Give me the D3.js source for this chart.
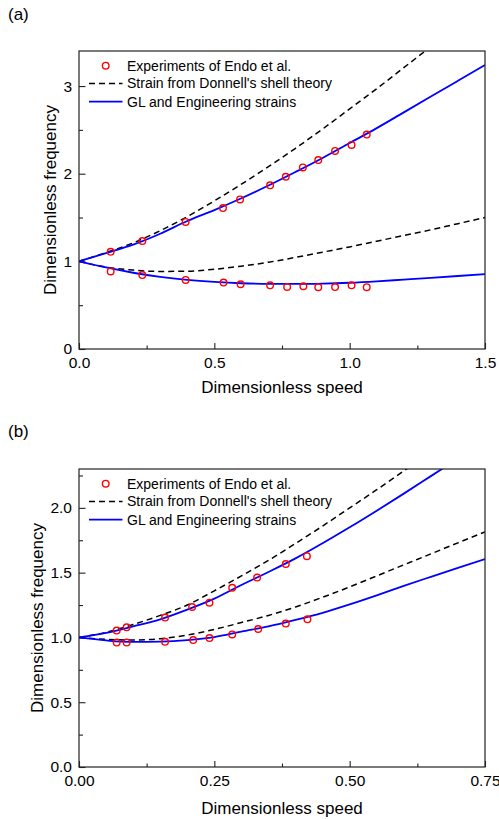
<!DOCTYPE html>
<html><head><meta charset="utf-8">
<script src="https://cdn.jsdelivr.net/npm/d3@7"></script>
<style>
body{margin:0;background:#fff}
text{font-family:"Liberation Sans",Arial,Helvetica,sans-serif;fill:#000}
</style>
</head><body>
<svg id="chart" width="499" height="819"></svg>
<script>
// ---------- Panel (a) data ----------
const aCurveX = [0,0.1,0.2,0.3,0.4,0.5,0.6,0.7,0.8,0.9,1.0,1.1,1.2,1.3,1.4,1.5];
const aDonnellUpperX = [0,0.1,0.2,0.3,0.4,0.5,0.6,0.7,0.8,0.9,1.0,1.1,1.2,1.3];
const aDonnellUpper = [1,1.10,1.21,1.35,1.51,1.69,1.88,2.08,2.29,2.51,2.74,2.97,3.21,3.45];
const aDonnellLower = [1,0.935,0.90,0.885,0.888,0.91,0.945,0.99,1.045,1.105,1.165,1.23,1.295,1.36,1.43,1.50];
const aGLUpper = [1,1.094,1.19,1.315,1.46,1.585,1.72,1.865,2.02,2.18,2.35,2.52,2.70,2.88,3.06,3.24];
const aGLLower = [1,0.93,0.87,0.822,0.788,0.765,0.75,0.743,0.742,0.746,0.756,0.772,0.792,0.812,0.833,0.855];
const aExpUpperX = [0.117,0.234,0.394,0.532,0.595,0.706,0.764,0.827,0.884,0.946,1.007,1.063];
const aExpUpperY = [1.109,1.231,1.450,1.608,1.707,1.868,1.965,2.072,2.155,2.260,2.328,2.446];
const aExpLowerX = [0.117,0.234,0.394,0.534,0.597,0.706,0.769,0.829,0.884,0.946,1.007,1.063];
const aExpLowerY = [0.885,0.844,0.788,0.758,0.739,0.726,0.708,0.716,0.705,0.707,0.726,0.705];
const aXTicks = [0,0.5,1.0,1.5];
const aXTickLabels = ["0.0","0.5","1.0","1.5"];
const aXMinor = [0.25,0.75,1.25];
const aYTicks = [0,1,2,3];
const aYTickLabels = ["0","1","2","3"];
const aYMinor = [0.5,1.5,2.5];

// ---------- Panel (b) data ----------
const bCurveX = [0,0.05,0.1,0.15,0.2,0.25,0.3,0.35,0.4,0.45,0.5,0.55,0.6,0.65,0.7,0.75];
const bDonnellUpperX = [0,0.05,0.1,0.15,0.2,0.25,0.3,0.35,0.4,0.45,0.5,0.55,0.6,0.65];
const bDonnellUpper = [1,1.04,1.10,1.17,1.25,1.36,1.475,1.595,1.725,1.86,2.0,2.14,2.285,2.43];
const bDonnellLower = [1,0.985,0.98,0.99,1.018,1.062,1.115,1.17,1.235,1.31,1.39,1.475,1.56,1.645,1.73,1.815];
const bGLUpperX = [0,0.05,0.1,0.15,0.2,0.25,0.3,0.35,0.4,0.45,0.5,0.55,0.6,0.65,0.7];
const bGLUpper = [1,1.035,1.085,1.14,1.215,1.30,1.405,1.505,1.61,1.727,1.85,1.978,2.11,2.245,2.38];
const bGLLower = [1,0.977,0.965,0.968,0.98,1.003,1.045,1.085,1.135,1.19,1.255,1.325,1.398,1.468,1.537,1.605];
const bExpUpperX = [0.0696,0.088,0.159,0.209,0.241,0.283,0.329,0.382,0.421];
const bExpUpperY = [1.053,1.078,1.153,1.235,1.268,1.383,1.462,1.566,1.627];
const bExpLowerX = [0.0696,0.088,0.159,0.211,0.241,0.283,0.331,0.382,0.422];
const bExpLowerY = [0.960,0.960,0.966,0.980,0.995,1.023,1.065,1.107,1.140];
const bXTicks = [0,0.25,0.5,0.75];
const bXTickLabels = ["0.00","0.25","0.50","0.75"];
const bXMinor = [0.125,0.375,0.625];
const bYTicks = [0,0.5,1.0,1.5,2.0];
const bYTickLabels = ["0.0","0.5","1.0","1.5","2.0"];
const bYMinor = [0.25,0.75,1.25,1.75,2.25];

const legendLabels = ["Experiments of Endo et al.","Strain from Donnell's shell theory","GL and Engineering strains"];
const xTitle = "Dimensionless speed";
const yTitle = "Dimensionless frequency";

const svg = d3.select("#chart");
const BLUE = "#0000ff", RED = "#ff0000";

function drawPanel(cfg){
  const L = 79, R = 485, T = cfg.top, B = cfg.bottom;
  const x = d3.scaleLinear().domain(cfg.xDomain).range([L,R]);
  const y = d3.scaleLinear().domain(cfg.yDomain).range([B,T]);
  const g = svg.append("g");

  const clipId = "clip" + cfg.id;
  svg.append("clipPath").attr("id",clipId).append("rect")
    .attr("x",L).attr("y",T).attr("width",R-L).attr("height",B-T);

  g.append("text").attr("x",8).attr("y",cfg.labelY).style("font-size","17px").text(cfg.label);

  const fmtX = d => cfg.xLabels[cfg.xTicks.indexOf(d)];
  const fmtY = d => cfg.yLabels[cfg.yTicks.indexOf(d)];
  const xa = g.append("g").attr("transform",`translate(0,${B})`)
    .call(d3.axisBottom(x).tickValues(cfg.xTicks).tickSize(-6).tickPadding(8).tickFormat(fmtX));
  const xm = g.append("g").attr("transform",`translate(0,${B})`)
    .call(d3.axisBottom(x).tickValues(cfg.xMinor).tickSize(-3.5).tickFormat(""));
  const ya = g.append("g").attr("transform",`translate(${L},0)`)
    .call(d3.axisLeft(y).tickValues(cfg.yTicks).tickSize(-6.5).tickPadding(7).tickFormat(fmtY));
  const ym = g.append("g").attr("transform",`translate(${L},0)`)
    .call(d3.axisLeft(y).tickValues(cfg.yMinor).tickSize(-4).tickFormat(""));
  [xa,xm,ya,ym].forEach(a=>{
    a.select(".domain").remove();
    a.selectAll("line").attr("stroke","#222").attr("stroke-width",1.1);
    a.selectAll("text").style("font-size","15.5px").style("font-family",'"Liberation Sans",Arial,sans-serif').attr("fill","#000");
  });

  const line = d3.line().x(d=>x(d[0])).y(d=>y(d[1])).curve(d3.curveMonotoneX);
  const cg = g.append("g").attr("clip-path",`url(#${clipId})`);
  const zip = (xs,ys)=>xs.map((v,i)=>[v,ys[i]]);
  cfg.dashed.forEach(s=>{
    cg.append("path").attr("d",line(zip(s[0],s[1]))).attr("fill","none")
      .attr("stroke","#000").attr("stroke-width",1.5).attr("stroke-dasharray","6,4");
  });
  cfg.solid.forEach(s=>{
    cg.append("path").attr("d",line(zip(s[0],s[1]))).attr("fill","none")
      .attr("stroke",BLUE).attr("stroke-width",1.8);
  });
  cfg.exp.forEach(s=>{
    cg.selectAll(null).data(zip(s[0],s[1])).enter().append("circle")
      .attr("cx",d=>x(d[0])).attr("cy",d=>y(d[1])).attr("r",3.3)
      .attr("fill","none").attr("stroke",RED).attr("stroke-width",1.4);
  });

  g.append("rect").attr("x",L).attr("y",T).attr("width",R-L).attr("height",B-T)
    .attr("fill","none").attr("stroke","#222").attr("stroke-width",1.2);

  const ly = [T+14.7, T+32.5, T+50.7];
  g.append("circle").attr("cx",105.7).attr("cy",ly[0]).attr("r",3.3)
    .attr("fill","none").attr("stroke",RED).attr("stroke-width",1.4);
  g.append("line").attr("x1",89).attr("x2",122.5).attr("y1",ly[1]).attr("y2",ly[1])
    .attr("stroke","#000").attr("stroke-width",1.5).attr("stroke-dasharray","6,4");
  g.append("line").attr("x1",89).attr("x2",122.5).attr("y1",ly[2]).attr("y2",ly[2])
    .attr("stroke",BLUE).attr("stroke-width",1.8);
  legendLabels.forEach((t,i)=>{
    g.append("text").attr("x",127).attr("y",ly[i]).attr("dy","0.35em").style("font-size","14px").text(t);
  });

  g.append("text").attr("x",(L+R)/2).attr("y",cfg.xTitleY).attr("text-anchor","middle")
    .style("font-size","17px").text(xTitle);
  g.append("text").attr("transform",`translate(${cfg.yTitleX},${(T+B)/2}) rotate(-90)`)
    .attr("text-anchor","middle").style("font-size","17px").text(yTitle);
}

drawPanel({
  id:"a", label:"(a)", labelY:20, top:51, bottom:349,
  xDomain:[0,1.5], yDomain:[0,3.4],
  xTicks:aXTicks, xLabels:aXTickLabels, xMinor:aXMinor,
  yTicks:aYTicks, yLabels:aYTickLabels, yMinor:aYMinor,
  dashed:[[aDonnellUpperX,aDonnellUpper],[aCurveX,aDonnellLower]],
  solid:[[aCurveX,aGLUpper],[aCurveX,aGLLower]],
  exp:[[aExpUpperX,aExpUpperY],[aExpLowerX,aExpLowerY]],
  xTitleY:393, yTitleX:55.5
});
drawPanel({
  id:"b", label:"(b)", labelY:437, top:469, bottom:767,
  xDomain:[0,0.75], yDomain:[0,2.3],
  xTicks:bXTicks, xLabels:bXTickLabels, xMinor:bXMinor,
  yTicks:bYTicks, yLabels:bYTickLabels, yMinor:bYMinor,
  dashed:[[bDonnellUpperX,bDonnellUpper],[bCurveX,bDonnellLower]],
  solid:[[bGLUpperX,bGLUpper],[bCurveX,bGLLower]],
  exp:[[bExpUpperX,bExpUpperY],[bExpLowerX,bExpLowerY]],
  xTitleY:814, yTitleX:43
});
</script>
</body></html>
